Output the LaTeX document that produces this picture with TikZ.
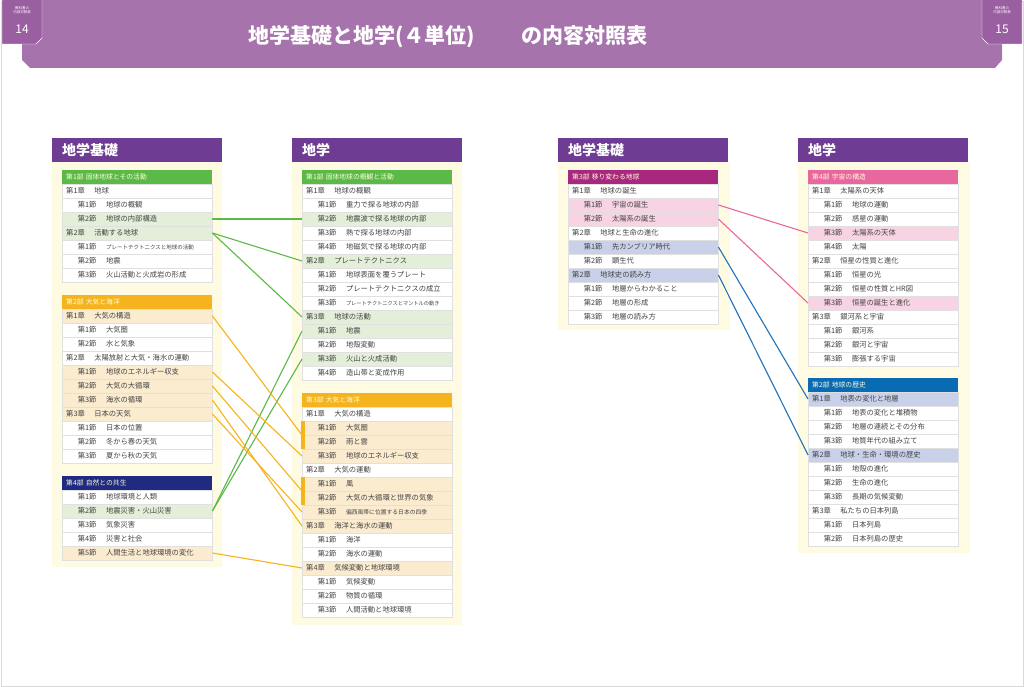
\documentclass[tikz,border=0pt]{standalone}
\usepackage{fontspec}
\setmainfont{Noto Sans CJK JP}
\definecolor{gfill}{HTML}{E3EFD9}
\definecolor{ofill}{HTML}{FBEBCF}
\definecolor{pfill}{HTML}{F8D3E3}
\definecolor{bfill}{HTML}{C9D1EA}
\definecolor{panel}{HTML}{FFFBE3}
\definecolor{hpurple}{HTML}{6E3C93}
\definecolor{banner}{HTML}{A773AD}
\definecolor{tabc}{HTML}{9A5FA0}
\definecolor{cgreen}{HTML}{5BB947}
\definecolor{corange}{HTML}{F5B41E}
\definecolor{cnavy}{HTML}{1F2A80}
\definecolor{cmag}{HTML}{A8287F}
\definecolor{cpink}{HTML}{E8679E}
\definecolor{cblue}{HTML}{0A6BB5}
\definecolor{lblue}{HTML}{2272B8}
\definecolor{txt}{HTML}{444444}
\newcommand\RW[5]{\node[rowbox,fill=#4] (#1) at (#2,#3) {#5};}
\newcommand\HD[5]{\node[hdrbox,fill=#4] (#1) at (#2,#3) {#5};}
\newcommand\CH[2]{#1\hspace{1.3em}#2}
\newcommand\SE[2]{\hspace{1.6em}#1\hspace{1.3em}#2}
\begin{document}
\begin{tikzpicture}[x=1pt,y=-1pt,
 rowbox/.style={anchor=west,draw=black!12,line width=0.4pt,minimum height=14pt,text width=142pt,inner xsep=4pt,inner ysep=0pt,align=left,font=\fontsize{7.3}{7.5}\selectfont,text=txt},
 hdrbox/.style={anchor=west,minimum height=14pt,text width=142pt,inner xsep=4pt,inner ysep=0pt,align=left,font=\fontsize{6.8}{7}\selectfont,text=white!85!yellow},
 colhead/.style={anchor=north west,fill=hpurple,minimum width=170pt,minimum height=24pt,inner xsep=10pt,text width=150pt,align=left,text=white,font=\bfseries\fontsize{14}{15}\selectfont},
 gl/.style={cgreen,line width=1.1pt},
 ol/.style={corange,line width=1.1pt},
 pl/.style={cpink,line width=1.1pt},
 bl/.style={lblue,line width=1.1pt}]
\useasboundingbox (0,0) rectangle (1024,687);
\fill[white] (0,0) rectangle (1024,687);
\draw[black!15] (1,1) rectangle (1023,686);
% banner
\fill[banner] (22,0) -- (1002,0) -- (1002,60) -- (995,68) -- (30,68) -- (22,60) -- cycle;
\fill[tabc,draw=white] (2,-1) -- (42,-1) -- (42,38) -- (36,44) -- (2,44) -- cycle;
\fill[tabc,draw=white] (982,-1) -- (1022,-1) -- (1022,44) -- (988,44) -- (982,38) -- cycle;
\node[text=white,font=\fontsize{3.5}{4}\selectfont,align=center] (tl1) at (22,10) {教科書の\\内容対照表};
\node[text=white,font=\fontsize{12}{13}\selectfont] (tl2) at (22,29) {14};
\node[text=white,font=\fontsize{3.5}{4}\selectfont,align=center] (tr1) at (1002,10) {教科書の\\内容対照表};
\node[text=white,font=\fontsize{12}{13}\selectfont] (tr2) at (1002,29) {15};
\node[text=white,font=\bfseries\fontsize{21}{22}\selectfont] (title) at (448,37) {地学基礎と地学(４単位)\hspace{2.2em}の内容対照表};
% panels
\fill[panel] (52,162) rectangle (222,567);
\fill[panel] (292,162) rectangle (462,625);
\fill[panel] (558,162) rectangle (730,330);
\fill[panel] (798,162) rectangle (970,553);
\node[colhead] (h1) at (52,138) {地学基礎};
\node[colhead] (h2) at (292,138) {地学};
\node[colhead] (h3) at (558,138) {地学基礎};
\node[colhead] (h4) at (798,138) {地学};
% column 1
\HD{a0}{62}{177}{cgreen}{第1部 固体地球とその活動}
\RW{a1}{62}{191}{white}{\CH{第1章}{地球}}
\RW{a2}{62}{205}{white}{\SE{第1節}{地球の概観}}
\RW{anaibu}{62}{219}{gfill}{\SE{第2節}{地球の内部構造}}
\RW{akatsudo}{62}{233}{gfill}{\CH{第2章}{活動する地球}}
\RW{a5}{62}{247}{white}{\SE{第1節}{{\fontsize{5.5}{6}\selectfont プレートテクトニクスと地球の活動}}}
\RW{a6}{62}{261}{white}{\SE{第2節}{地震}}
\RW{a7}{62}{275}{white}{\SE{第3節}{火山活動と火成岩の形成}}
\HD{a8}{62}{302}{corange}{第2部 大気と海洋}
\RW{ataiki}{62}{316}{ofill}{\CH{第1章}{大気の構造}}
\RW{a10}{62}{330}{white}{\SE{第1節}{大気圏}}
\RW{a11}{62}{344}{white}{\SE{第2節}{水と気象}}
\RW{a12}{62}{358}{white}{\CH{第2章}{太陽放射と大気・海水の運動}}
\RW{aenergy}{62}{372}{ofill}{\SE{第1節}{地球のエネルギー収支}}
\RW{adaijun}{62}{386}{ofill}{\SE{第2節}{大気の大循環}}
\RW{akaisui}{62}{400}{ofill}{\SE{第3節}{海水の循環}}
\RW{atenki}{62}{414}{ofill}{\CH{第3章}{日本の天気}}
\RW{a17}{62}{428}{white}{\SE{第1節}{日本の位置}}
\RW{a18}{62}{442}{white}{\SE{第2節}{冬から春の天気}}
\RW{a19}{62}{456}{white}{\SE{第3節}{夏から秋の天気}}
\HD{a20}{62}{483}{cnavy}{第4部 自然との共生}
\RW{a21}{62}{497}{white}{\SE{第1節}{地球環境と人類}}
\RW{asaigai}{62}{511}{gfill}{\SE{第2節}{地震災害・火山災害}}
\RW{a23}{62}{525}{white}{\SE{第3節}{気象災害}}
\RW{a24}{62}{539}{white}{\SE{第4節}{災害と社会}}
\RW{aningen}{62}{553}{ofill}{\SE{第5節}{人間生活と地球環境の変化}}
% column 2
\HD{b0}{302}{177}{cgreen}{第1部 固体地球の概観と活動}
\RW{b1}{302}{191}{white}{\CH{第1章}{地球の概観}}
\RW{b2}{302}{205}{white}{\SE{第1節}{重力で探る地球の内部}}
\RW{bjishinha}{302}{219}{gfill}{\SE{第2節}{地震波で探る地球の内部}}
\RW{b4}{302}{233}{white}{\SE{第3節}{熱で探る地球の内部}}
\RW{b5}{302}{247}{white}{\SE{第4節}{地磁気で探る地球の内部}}
\RW{bplate}{302}{261}{gfill}{\CH{第2章}{プレートテクトニクス}}
\RW{b7}{302}{275}{white}{\SE{第1節}{地球表面を覆うプレート}}
\RW{b8}{302}{289}{white}{\SE{第2節}{プレートテクトニクスの成立}}
\RW{b9}{302}{303}{white}{\SE{第3節}{{\fontsize{5.2}{6}\selectfont プレートテクトニクスとマントルの動き}}}
\RW{bkatsudo}{302}{317}{gfill}{\CH{第3章}{地球の活動}}
\RW{bjishin}{302}{331}{gfill}{\SE{第1節}{地震}}
\RW{b12}{302}{345}{white}{\SE{第2節}{地殻変動}}
\RW{bkazan}{302}{359}{gfill}{\SE{第3節}{火山と火成活動}}
\RW{b14}{302}{373}{white}{\SE{第4節}{造山帯と変成作用}}
\HD{b15}{302}{400}{corange}{第3部 大気と海洋}
\RW{b16}{302}{414}{white}{\CH{第1章}{大気の構造}}
\RW{b17}{302}{428}{ofill}{\SE{第1節}{大気圏}}
\RW{b18}{302}{442}{ofill}{\SE{第2節}{雨と雲}}
\RW{benergy}{302}{456}{ofill}{\SE{第3節}{地球のエネルギー収支}}
\RW{b20}{302}{470}{white}{\CH{第2章}{大気の運動}}
\RW{b21}{302}{484}{ofill}{\SE{第1節}{風}}
\RW{b22}{302}{498}{ofill}{\SE{第2節}{大気の大循環と世界の気象}}
\RW{bhensei}{302}{512}{ofill}{\SE{第3節}{{\fontsize{5.8}{6}\selectfont 偏西風帯に位置する日本の四季}}}
\RW{bkaiyo}{302}{526}{ofill}{\CH{第3章}{海洋と海水の運動}}
\RW{b25}{302}{540}{white}{\SE{第1節}{海洋}}
\RW{b26}{302}{554}{white}{\SE{第2節}{海水の運動}}
\RW{bkiko}{302}{568}{ofill}{\CH{第4章}{気候変動と地球環境}}
\RW{b28}{302}{582}{white}{\SE{第1節}{気候変動}}
\RW{b29}{302}{596}{white}{\SE{第2節}{物質の循環}}
\RW{b30}{302}{610}{white}{\SE{第3節}{人間活動と地球環境}}
\fill[corange] (301,421) rectangle (304.5,449);
\fill[corange] (301,477) rectangle (304.5,505);
\coordinate (bbar1) at (302,435);
\coordinate (bbar2) at (302,491);
% column 3
\HD{c0}{568}{177}{cmag}{第3部 移り変わる地球}
\RW{c1}{568}{191}{white}{\CH{第1章}{地球の誕生}}
\RW{cuchu}{568}{205}{pfill}{\SE{第1節}{宇宙の誕生}}
\RW{ctaiyo}{568}{219}{pfill}{\SE{第2節}{太陽系の誕生}}
\RW{c4}{568}{233}{white}{\CH{第2章}{地球と生命の進化}}
\RW{cprecam}{568}{247}{bfill}{\SE{第1節}{先カンブリア時代}}
\RW{c6}{568}{261}{white}{\SE{第2節}{顕生代}}
\RW{cyomi}{568}{275}{bfill}{\CH{第2章}{地球史の読み方}}
\RW{c8}{568}{289}{white}{\SE{第1節}{地層からわかること}}
\RW{c9}{568}{303}{white}{\SE{第2節}{地層の形成}}
\RW{c10}{568}{317}{white}{\SE{第3節}{地層の読み方}}
% column 4
\HD{d0}{808}{177}{cpink}{第4部 宇宙の構造}
\RW{d1}{808}{191}{white}{\CH{第1章}{太陽系の天体}}
\RW{d2}{808}{205}{white}{\SE{第1節}{地球の運動}}
\RW{d3}{808}{219}{white}{\SE{第2節}{惑星の運動}}
\RW{dtentai}{808}{233}{pfill}{\SE{第3節}{太陽系の天体}}
\RW{d5}{808}{247}{white}{\SE{第4節}{太陽}}
\RW{d6}{808}{261}{white}{\CH{第2章}{恒星の性質と進化}}
\RW{d7}{808}{275}{white}{\SE{第1節}{恒星の光}}
\RW{d8}{808}{289}{white}{\SE{第2節}{恒星の性質とHR図}}
\RW{dkosei}{808}{303}{pfill}{\SE{第3節}{恒星の誕生と進化}}
\RW{d10}{808}{317}{white}{\CH{第3章}{銀河系と宇宙}}
\RW{d11}{808}{331}{white}{\SE{第1節}{銀河系}}
\RW{d12}{808}{345}{white}{\SE{第2節}{銀河と宇宙}}
\RW{d13}{808}{359}{white}{\SE{第3節}{膨張する宇宙}}
\HD{d14}{808}{385}{cblue}{第2部 地球の歴史}
\RW{dchihyo}{808}{399}{bfill}{\CH{第1章}{地表の変化と地層}}
\RW{d16}{808}{413}{white}{\SE{第1節}{地表の変化と堆積物}}
\RW{d17}{808}{427}{white}{\SE{第2節}{地層の連続とその分布}}
\RW{d18}{808}{441}{white}{\SE{第3節}{地質年代の組み立て}}
\RW{drekishi}{808}{455}{bfill}{\CH{第2章}{地球・生命・環境の歴史}}
\RW{d20}{808}{469}{white}{\SE{第1節}{地殻の進化}}
\RW{d21}{808}{483}{white}{\SE{第2節}{生命の進化}}
\RW{d22}{808}{497}{white}{\SE{第3節}{長期の気候変動}}
\RW{d23}{808}{511}{white}{\CH{第3章}{私たちの日本列島}}
\RW{d24}{808}{525}{white}{\SE{第1節}{日本列島}}
\RW{d25}{808}{539}{white}{\SE{第2節}{日本列島の歴史}}
% connectors
\draw[gl] (anaibu.east) -- (bjishinha.west);
\draw[gl] (akatsudo.east) -- (bplate.west);
\draw[gl] (akatsudo.east) -- (bkatsudo.west);
\draw[gl] (asaigai.east) -- (bjishin.west);
\draw[gl] (asaigai.east) -- (bkazan.west);
\draw[ol] (ataiki.east) -- (bbar1);
\draw[ol] (aenergy.east) -- (benergy.west);
\draw[ol] (adaijun.east) -- (bbar2);
\draw[ol] (akaisui.east) -- (bkaiyo.west);
\draw[ol] (atenki.east) -- (bhensei.west);
\draw[ol] (aningen.east) -- (bkiko.west);
\draw[pl] (cuchu.east) -- (dtentai.west);
\draw[pl] (ctaiyo.east) -- (dkosei.west);
\draw[bl] (cprecam.east) -- (dchihyo.west);
\draw[bl] (cyomi.east) -- (drekishi.west);
\end{tikzpicture}
\end{document}
